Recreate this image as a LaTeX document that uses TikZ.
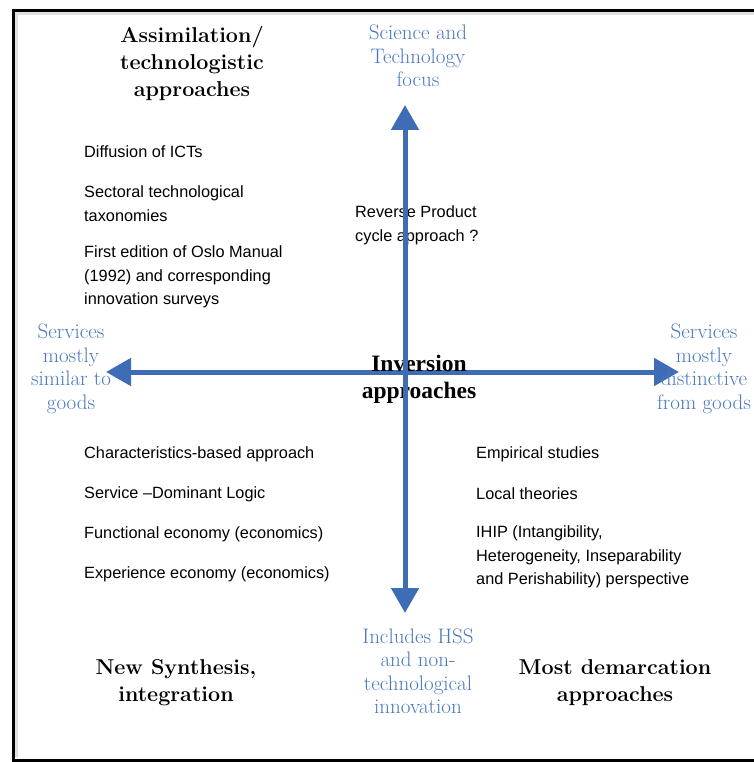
\documentclass[tikz,border=0pt]{standalone}
\usepackage{fontspec}
\newfontfamily\arialfont{Liberation Sans}
\newfontfamily\timesfont{Liberation Serif}
\usetikzlibrary{arrows.meta, positioning}
\definecolor{axisblue}{HTML}{3E6DB5}
\definecolor{poleblue}{HTML}{4A78BC}

\begin{document}
\begin{tikzpicture}[x=1pt, y=-1pt,
	item/.style={font=\fontsize{16.3}{23.5}\selectfont\arialfont, align=left, anchor=west, inner sep=0pt},
	heading/.style={font=\fontsize{21.5}{27}\selectfont\bfseries, align=center, inner sep=0pt},
	pole/.style={font=\fontsize{21}{23.5}\selectfont, text=poleblue, align=center, inner sep=0pt},
	axis/.style={draw=axisblue, line width=5pt, -{Triangle[length=25pt, width=27pt]}}]

	\useasboundingbox (0,0) rectangle (753,762);

	% Draw the frame
	\draw[line width=3pt, black!12] (775,14) -- (16,14) -- (16,757);
	\draw[line width=3pt] (775,11) -- (13,11) -- (13,760) -- (775,760);

	% Ends of the two axes
	\coordinate (hub) at (405,372);
	\coordinate (upend) at (405,105);
	\coordinate (downend) at (405,613);
	\coordinate (leftend) at (106,372);
	\coordinate (rightend) at (679,372);

	% Draw the horizontal axis
	\draw[axis] (hub) -- (leftend);
	\draw[axis] (hub) -- (rightend);

	% Quadrant headings
	\node[heading] (assim) at (192,64) {Assimilation/\\technologistic\\approaches};
	\node[heading, font=\fontsize{23.5}{27}\selectfont\timesfont\bfseries] (inversion) at (419,379) {Inversion\\approaches};
	\node[heading] (synth) at (176,683) {New Synthesis,\\integration};
	\node[heading] (demarc) at (615,683) {Most demarcation\\approaches};

	% Labels at the ends of the axes
	\node[pole] (scitech) at (418,56) {Science and\\Technology\\focus};
	\node[pole] (similar) at (71,369) {Services\\mostly\\similar to\\goods};
	\node[pole] (distinct) at (704,369) {Services\\mostly\\distinctive\\from goods};
	\node[pole] (hss) at (418,671) {Includes HSS\\and non-\\technological\\innovation};

	% Upper left items
	\node[item] (ict) at (84,152) {Diffusion of ICTs};
	\node[item] (taxo) at (84,203.5) {Sectoral technological\\taxonomies};
	\node[item] (oslo) at (84,277) {First edition of Oslo Manual\\(1992) and corresponding\\innovation surveys};
	\node[item] (reverse) at (355,225.5) {Reverse Product\\cycle approach ?};

	% Lower left items
	\node[item] (charac) at (84,454) {Characteristics-based approach};
	\node[item] (sdl) at (84,494) {Service –Dominant Logic};
	\node[item] (functional) at (84,534) {Functional economy (economics)};
	\node[item] (experience) at (84,574) {Experience economy (economics)};

	% Lower right items
	\node[item] (empirical) at (476,454) {Empirical studies};
	\node[item] (local) at (476,494) {Local theories};
	\node[item] (ihip) at (476,557) {IHIP (Intangibility,\\Heterogeneity, Inseparability\\and Perishability) perspective};

	% Draw the vertical axis
	\draw[axis] (hub) -- (upend);
	\draw[axis] (hub) -- (downend);

\end{tikzpicture}
\end{document}
